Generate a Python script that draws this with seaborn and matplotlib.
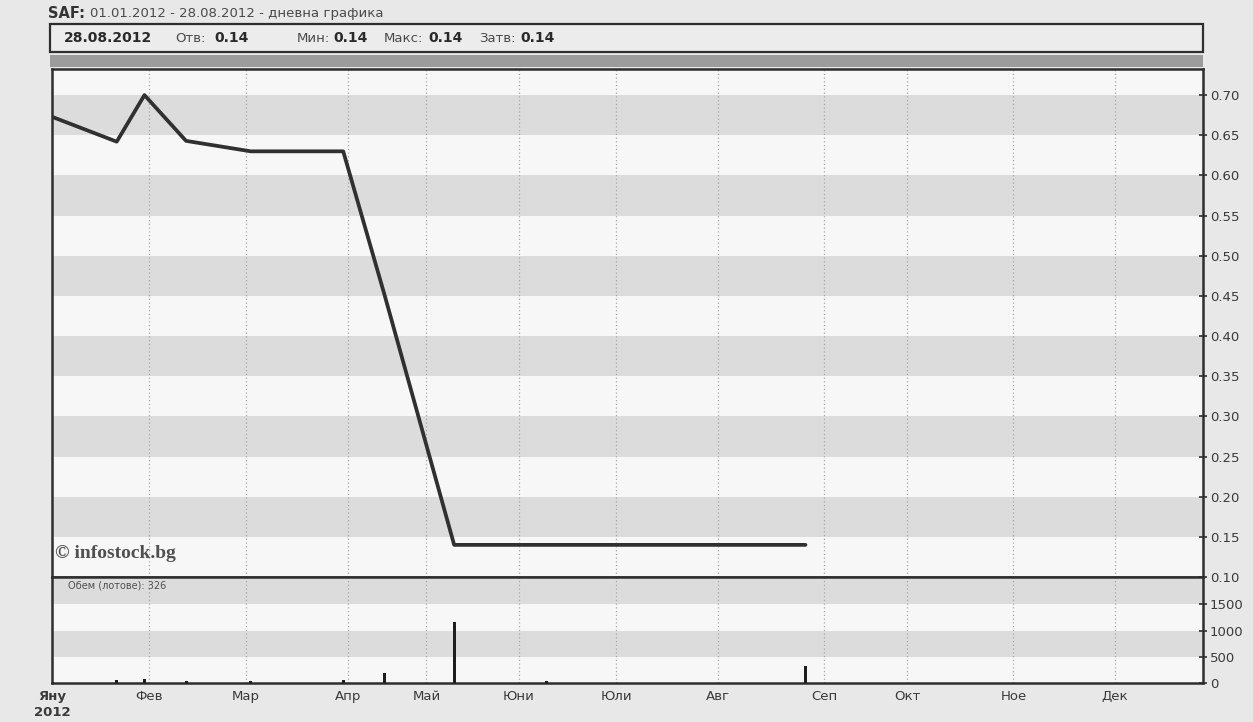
import matplotlib
matplotlib.use("Agg")
import matplotlib.pyplot as plt
from matplotlib.patches import Rectangle
import numpy as np
import pandas as pd
import seaborn as sns

# ---------------- data ----------------
# x axis is in trading sessions from the start of 2012
month_labels = ["Яну\n2012", "Фев", "Мар", "Апр", "Май", "Юни",
                "Юли", "Авг", "Сеп", "Окт", "Ное", "Дек"]
month_sessions = [21, 21, 22, 17, 20, 21, 22, 23, 18, 23, 22, 19]

trade_dates = ["03.01", "20.01", "30.01", "10.02", "02.03", "29.03",
               "12.04", "10.05", "07.06", "28.08"]
trade_session = [0, 14, 20, 29, 43, 63, 72, 87, 107, 163]
close_price = [0.673, 0.642, 0.700, 0.643, 0.630, 0.630, 0.450, 0.140, 0.140, 0.140]
volume_lots = [20, 50, 80, 40, 40, 60, 190, 1170, 30, 326]

price_ticks = [0.10, 0.15, 0.20, 0.25, 0.30, 0.35, 0.40, 0.45, 0.50, 0.55, 0.60, 0.65, 0.70]
volume_ticks = [0, 500, 1000, 1500]

title_code = "SAF:"
title_rest = "01.01.2012 - 28.08.2012 - дневна графика"
header_date = "28.08.2012"
header_fields = ["Отв:", "Мин:", "Макс:", "Затв:"]
header_values = ["0.14", "0.14", "0.14", "0.14"]
watermark = "© infostock.bg"
volume_caption = "Обем (лотове): 326"

# ---------------- figure ----------------
sns.set_theme(style="white")
plt.rcParams["font.family"] = ["DejaVu Sans"]

W, H = 1253, 722
fig = plt.figure(figsize=(W / 100, H / 100), dpi=100, facecolor="#e8e8e8")

def fx(px):
    return px / W

def fy(py):
    return 1 - py / H

left, right = 52, 1203
top_main, bot_main, bot_vol = 69, 577, 683

ax = fig.add_axes([fx(left), fy(bot_main), fx(right - left), fy(top_main) - fy(bot_main)])
axv = fig.add_axes([fx(left), fy(bot_vol), fx(right - left), fy(bot_main) - fy(bot_vol)], sharex=ax)

month_start = np.concatenate([[0], np.cumsum(month_sessions)[:-1]])
n_sessions = int(np.sum(month_sessions))

df = pd.DataFrame({"session": trade_session, "price": close_price, "volume": volume_lots})

ink = "#2e2e2e"
band = "#dcdcdc"
for a in (ax, axv):
    a.set_facecolor("#f7f7f7")
    for s in a.spines.values():
        s.set_color(ink)
        s.set_linewidth(1.8)

# alternating bands, price panel
ymin, ymax = 0.10, 0.7325
for lo in price_ticks[1::2]:
    ax.axhspan(lo, lo + 0.05, color=band, zorder=0, lw=0)
# bands, volume panel
vmax = 2020
axv.axhspan(500, 1000, color=band, zorder=0, lw=0)
axv.axhspan(1500, vmax, color=band, zorder=0, lw=0)

# vertical dotted grid at month starts
for a in (ax, axv):
    for m in month_start[1:]:
        a.axvline(m, color="#a8a8a8", lw=0.9, ls=(0, (1, 2)), zorder=1)

sns.lineplot(data=df, x="session", y="price", ax=ax, color="#303030",
             linewidth=2.7, sort=False, zorder=3)
sns.barplot(data=df, x="session", y="volume", ax=axv, native_scale=True,
            color="#1e1e1e", width=0.11, linewidth=0, saturation=1, zorder=3)

ax.set_xlim(0, n_sessions)
ax.set_ylim(ymin, ymax)
axv.set_ylim(0, vmax)

for a in (ax, axv):
    a.set_xlabel("")
    a.set_ylabel("")
    a.yaxis.tick_right()

ax.set_yticks(price_ticks)
ax.set_yticklabels([f"{t:.2f}" for t in price_ticks])
axv.set_yticks(volume_ticks)
axv.set_yticklabels([str(t) for t in volume_ticks])
axv.set_xticks(month_start)
axv.set_xticklabels(month_labels)
ax.tick_params(axis="x", labelbottom=False, length=0)

for a in (ax, axv):
    a.tick_params(axis="y", direction="inout", length=6, width=1.2, color=ink,
                  labelsize=9.5, labelcolor="#3a3a3a", pad=2, left=False, right=True)
axv.tick_params(axis="x", direction="in", length=4, width=1.2, color="#555",
                labelsize=9.5, labelcolor="#3a3a3a", pad=5)
for lbl in axv.get_xticklabels():
    lbl.set_verticalalignment("top")
axv.get_xticklabels()[0].set_fontweight("bold")
axv.get_xticklabels()[0].set_linespacing(1.3)

# texts inside the panels
ax.text(0.003, 0.03, watermark, transform=ax.transAxes, ha="left", va="bottom",
        family=["Liberation Serif", "DejaVu Serif"], fontweight="bold",
        fontsize=14, color="#505050", zorder=5)
axv.text(0.014, 0.97, volume_caption, transform=axv.transAxes, ha="left", va="top",
         fontsize=7, color="#505050")

# header: title and info box
fig.text(fx(48), fy(14), title_code, ha="left", va="center", fontsize=10.5,
         fontweight="bold", color="#333333")
fig.text(fx(90), fy(14), title_rest, ha="left", va="center", fontsize=9.5,
         color="#4a4a4a")

fig.patches.append(Rectangle((fx(50), fy(52)), fx(right - 50), fy(24) - fy(52),
                             transform=fig.transFigure, facecolor="#ececec",
                             edgecolor=ink, lw=1.6, zorder=0))
fig.patches.append(Rectangle((fx(50), fy(67)), fx(right - 50), fy(55) - fy(67),
                             transform=fig.transFigure, facecolor="#9c9c9c",
                             edgecolor="none", zorder=0))

hy = fy(38)
fig.text(fx(64), hy, header_date, ha="left", va="center", fontsize=10,
         fontweight="bold", color="#2a2a2a")
field_x = [175, 297, 384, 479]
value_x = [214, 333, 428, 520]
for name, val, xn, xv in zip(header_fields, header_values, field_x, value_x):
    fig.text(fx(xn), hy, name, ha="left", va="center", fontsize=9.5, color="#4a4a4a")
    fig.text(fx(xv), hy, val, ha="left", va="center", fontsize=10,
             fontweight="bold", color="#2a2a2a")

fig.savefig("out.png", dpi=100, facecolor=fig.get_facecolor())
